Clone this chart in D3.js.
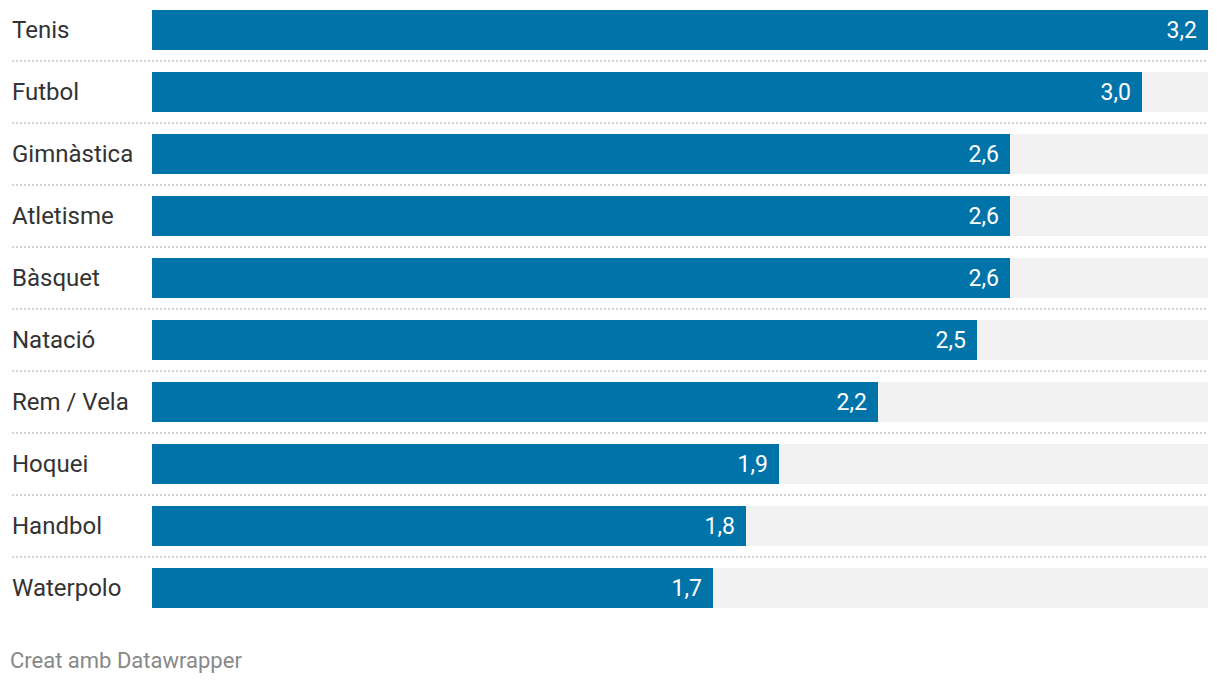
<!DOCTYPE html>
<html><head><meta charset="utf-8">
<script src="https://cdn.jsdelivr.net/npm/d3@7"></script>
<style>body{margin:0;background:#fff;font-family:Roboto,sans-serif}</style>
</head><body>
<svg id="c" width="1220" height="684"></svg>
<script>
const categories = ["Tenis","Futbol","Gimnàstica","Atletisme","Bàsquet","Natació","Rem / Vela","Hoquei","Handbol","Waterpolo"];
const values = [3.2,3.0,2.6,2.6,2.6,2.5,2.2,1.9,1.8,1.7];
const footer = "Creat amb Datawrapper";

const svg = d3.select("#c");
const g = svg.append("g").attr("transform","translate(0,10)");
const x = d3.scaleLinear().domain([0,3.2]).range([152,1208]);
const y = d3.scaleBand().domain(categories).range([0,62*10-22]).paddingInner(22/62).paddingOuter(0);
const fmt = v => d3.format(".1f")(v).replace(".", ",");

// separators
g.selectAll("line.sep").data(categories.slice(0,-1)).join("line")
  .attr("x1",12).attr("x2",1208)
  .attr("y1",d=>y(d)+y.bandwidth()+11).attr("y2",d=>y(d)+y.bandwidth()+11)
  .attr("stroke","#d4d4d4").attr("stroke-width",2).attr("stroke-dasharray","2,2");

// background
g.selectAll("rect.bg").data(categories).join("rect")
  .attr("x",x(0)).attr("width",x(3.2)-x(0))
  .attr("y",d=>y(d)).attr("height",y.bandwidth()).attr("fill","#f2f2f2");

g.selectAll("rect.bar").data(values).join("rect")
  .attr("x",x(0)).attr("width",d=>x(d)-x(0))
  .attr("y",(d,i)=>y(categories[i])).attr("height",y.bandwidth()).attr("fill","#0073a8");

g.selectAll("text.lab").data(categories).join("text")
  .attr("x",12).attr("y",d=>y(d)+y.bandwidth()/2).attr("dy","0.33em")
  .attr("font-size",24).attr("fill","#333").text(d=>d);

g.selectAll("text.val").data(values).join("text")
  .attr("x",d=>x(d)-11).attr("y",(d,i)=>y(categories[i])+y.bandwidth()/2).attr("dy","0.33em")
  .attr("text-anchor","end").attr("font-size",23).attr("fill","#fff").text(fmt);

svg.append("text").attr("x",10).attr("y",668).attr("font-size",22).attr("fill","#888").text(footer);
</script>
</body></html>
